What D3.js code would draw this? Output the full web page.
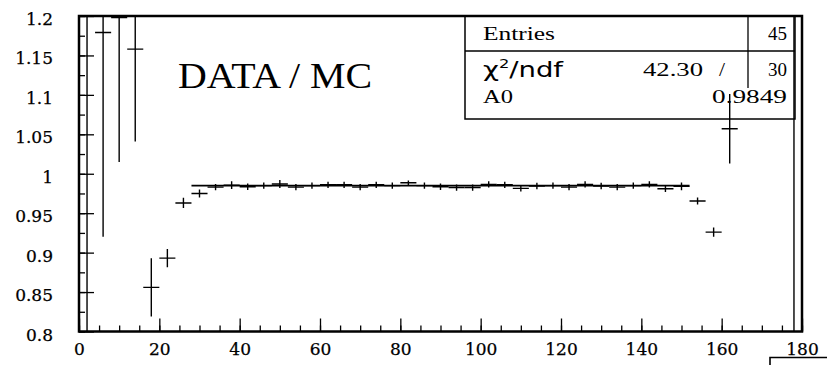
<!DOCTYPE html>
<html>
<head>
<meta charset="utf-8">
<script src="https://cdn.jsdelivr.net/npm/d3@7"></script>
<style>
  html, body { margin: 0; padding: 0; background: #fff; }
  svg { display: block; }
</style>
</head>
<body>
<svg id="chart" width="827" height="365"></svg>
<script>
// ---- data ----
const binCenters = [2,6,10,14,18,22,26,30,34,38,42,46,50,54,58,62,66,70,74,78,82,86,90,94,98,102,106,110,114,118,122,126,130,134,138,142,146,150,154,158,162,166,170,174,178];
const ratioValues = [0,1.179,1.198,1.158,0.856,0.893,0.963,0.975,0.983,0.9856,0.9835,0.985,0.987,0.983,0.985,0.986,0.986,0.983,0.986,0.985,0.9885,0.985,0.9835,0.9825,0.9825,0.9865,0.986,0.9815,0.9845,0.985,0.983,0.9865,0.9845,0.983,0.985,0.9865,0.981,0.984,0.9655,0.926,1.057,null,null,null,0];
const ratioErrors = [2,0.259,0.183,0.117,0.037,0.0115,0.0065,0.005,0.004,0.005,0.004,0.004,0.005,0.004,0.004,0.004,0.004,0.004,0.004,0.004,0.003,0.004,0.004,0.004,0.004,0.004,0.004,0.004,0.004,0.004,0.004,0.004,0.004,0.004,0.004,0.004,0.004,0.005,0.0045,0.006,0.044,null,null,null,2];
const binHalfWidth = 2;
const fitRange = [28, 152];
const fitA0 = 0.9849;
const xTickValues = [0,20,40,60,80,100,120,140,160,180];
const xTickLabels = ["0","20","40","60","80","100","120","140","160","180"];
const yTickValues = [0.8,0.85,0.9,0.95,1.0,1.05,1.1,1.15,1.2];
const yTickLabels = ["0.8","0.85","0.9","0.95","1","1.05","1.1","1.15","1.2"];
const statsRows = [["Entries","45"],["χ²/ndf","42.30","/","30"],["A0","0.9849"]];
const titleText = "DATA / MC";

// ---- layout ----
const svg = d3.select("#chart");
const L = 79, R = 802, T = 16, B = 331.5;
const x = d3.scaleLinear().domain([0,180]).range([L,R]);
const y = d3.scaleLinear().domain([0.8,1.2]).range([B,T]);

svg.append("defs").append("clipPath").attr("id","frameClip")
  .append("rect").attr("x",L).attr("y",T).attr("width",R-L).attr("height",B-T);

const tickStyle = g => { g.select(".domain").remove(); g.selectAll("line").attr("stroke","#000").attr("stroke-width",1.3); };

// minor x ticks
svg.append("g").attr("transform",`translate(0,${B})`)
  .call(d3.axisBottom(x).tickValues(d3.range(0,181,5)).tickSize(-6).tickFormat(""))
  .call(tickStyle);
// major x ticks
const xg = svg.append("g").attr("transform",`translate(0,${B})`)
  .call(d3.axisBottom(x).tickValues(xTickValues).tickSize(-13).tickPadding(11)
    .tickFormat((d,i)=>xTickLabels[i]))
  .call(tickStyle);
xg.selectAll("text").attr("font-family","DejaVu Serif").attr("font-size",17)
  .attr("fill","#000").attr("stroke","#000").attr("stroke-width",0.25);

// minor y ticks
svg.append("g").attr("transform",`translate(${L},0)`)
  .call(d3.axisLeft(y).tickValues(d3.range(0,17).map(i=>0.8+i*0.025)).tickSize(-6).tickFormat(""))
  .call(tickStyle);
// major y ticks
const yg = svg.append("g").attr("transform",`translate(${L},0)`)
  .call(d3.axisLeft(y).tickValues(yTickValues).tickSize(-15).tickPadding(26)
    .tickFormat((d,i)=>yTickLabels[i]))
  .call(tickStyle);
yg.selectAll("text").attr("font-family","DejaVu Serif").attr("font-size",17)
  .attr("fill","#000").attr("stroke","#000").attr("stroke-width",0.25).attr("dy","0.5em");

// frame
svg.append("rect").attr("x",L).attr("y",T).attr("width",R-L).attr("height",B-T)
  .attr("fill","none").attr("stroke","#000").attr("stroke-width",2.5);

// data points
const pts = binCenters.map((c,i)=>({c, v: ratioValues[i], e: ratioErrors[i]})).filter(d=>d.v!==null);
const dg = svg.append("g").attr("clip-path","url(#frameClip)")
  .attr("stroke","#000").attr("stroke-width",1.4);
dg.selectAll("line.h").data(pts).join("line").attr("class","h")
  .attr("x1",d=>x(d.c-binHalfWidth)).attr("x2",d=>x(d.c+binHalfWidth))
  .attr("y1",d=>y(d.v)).attr("y2",d=>y(d.v));
dg.selectAll("line.v").data(pts).join("line").attr("class","v")
  .attr("x1",d=>x(d.c)).attr("x2",d=>x(d.c))
  .attr("y1",d=>y(d.v-d.e)).attr("y2",d=>y(d.v+d.e));

// fit line
svg.append("line").attr("x1",x(fitRange[0])).attr("x2",x(fitRange[1]))
  .attr("y1",y(fitA0)).attr("y2",y(fitA0)).attr("stroke","#000").attr("stroke-width",1.6);

// title
svg.append("text").attr("x",178).attr("y",88).text(titleText)
  .attr("font-family","Liberation Serif").attr("font-size",36).attr("fill","#000")
  .attr("textLength",194).attr("lengthAdjust","spacingAndGlyphs");

// stats box
const sb = svg.append("g").attr("stroke","#000").attr("fill","none");
sb.append("rect").attr("x",465).attr("y",T).attr("width",330).attr("height",103).attr("stroke-width",1.5);
sb.append("line").attr("x1",465).attr("x2",795).attr("y1",51).attr("y2",51).attr("stroke-width",1.5);
sb.append("line").attr("x1",748).attr("x2",748).attr("y1",T).attr("y2",88).attr("stroke-width",1.3);

function stext(str, xx, yy, w, opts={}) {
  const t = svg.append("text").attr("x",xx).attr("y",yy).text(str)
    .attr("font-family", opts.family || "Liberation Serif")
    .attr("font-size", opts.size || 19).attr("fill","#000");
  if (w) t.attr("textLength",w).attr("lengthAdjust","spacingAndGlyphs");
  return t;
}
stext(statsRows[0][0], 483, 40, 72);
stext(statsRows[0][1], 768, 40, 19);
// chi2/ndf
const chi = svg.append("text").attr("transform","translate(483,77) scale(1.25,1)")
  .attr("font-family","DejaVu Sans").attr("font-size",22).attr("fill","#000");
chi.append("tspan").text("χ");
chi.append("tspan").text("2").attr("font-size",13).attr("dy",-9);
chi.append("tspan").text("/ndf").attr("dy",9);
stext(statsRows[1][1], 643, 76, 60);
stext(statsRows[1][2], 719, 76, 6);
stext(statsRows[1][3], 768, 76, 19);
stext(statsRows[2][0], 483, 103, 30);
stext(statsRows[2][1], 712, 103, 75);

// bottom-right corner artifact
svg.append("path").attr("d","M770,365V357.5H827").attr("fill","none").attr("stroke","#000").attr("stroke-width",1.6);
</script>
</body>
</html>
